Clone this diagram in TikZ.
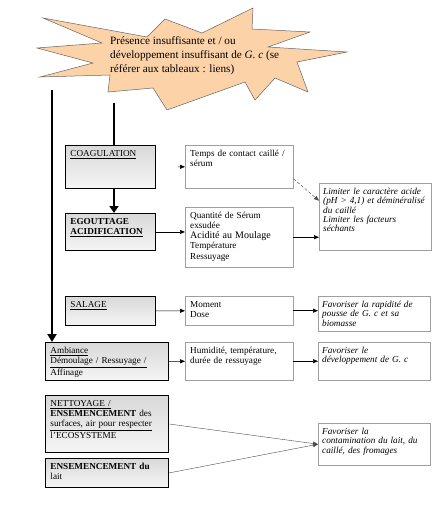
\documentclass[tikz,border=0pt]{standalone}
\usepackage{fontspec}
\setmainfont{Liberation Serif}
\usepackage{tikz}
\usetikzlibrary{arrows.meta,shadows}
\definecolor{burstpeach}{RGB}{252,210,168}

\begin{document}
\begin{tikzpicture}[x=1pt,y=-1pt,>={Triangle[length=5pt,width=4pt]}, every node/.style={font=\fontsize{9.2}{10.2}\selectfont}]
    \tikzset{stage/.style={draw,line width=0.9pt,top color=gray!30,bottom color=gray!8,anchor=north west,align=left,inner xsep=5pt,inner ysep=3pt,text height=8pt,text width=80pt}}
    \tikzset{factor/.style={draw=gray!75,fill=white,drop shadow={shadow xshift=1.2pt,shadow yshift=-1.2pt,fill=gray!70,opacity=1},anchor=north west,align=left,inner xsep=5pt,inner ysep=3pt,text height=8pt,text width=98pt}}
    \tikzset{effect/.style={factor,inner xsep=4pt,text width=104pt,font=\fontsize{9.2}{9.4}\selectfont\itshape}}
    \tikzset{flow/.style={line width=2pt}}
    \tikzset{link/.style={->,line width=0.6pt}}
    \tikzset{hint/.style={->,line width=0.4pt,gray!60!black}}

    \useasboundingbox (0,0) rectangle (440,511);

    % Starburst
    \draw[fill=burstpeach,draw=black!60,line width=0.5pt]
      (43,18) -- (147,37) -- (165,19) -- (202,33) -- (253,8) -- (252,29) -- (310,32) -- (268,47)
      -- (347,52) -- (297,62) -- (308,92) -- (275,78) -- (255,100) -- (245,82) -- (167,110)
      -- (153,88) -- (108,92) -- (110,75) -- (40,77) -- (93,63) -- (37,48) -- (102,43) -- cycle;
    \node[anchor=north west,align=left,inner sep=0pt,font=\fontsize{11.2}{14}\selectfont] (cause) at (110,36)
      {Présence insuffisante et / ou\\ développement insuffisant de \textit{G. c} (se\\ référer aux tableaux : liens)};
    \coordinate (leftstart) at (52,90);
    \coordinate (midstart) at (114,103);

    % Coagulation / egouttage / salage
    \node[stage,text depth=29pt] (coag) at (65,145) {\underline{COAGULATION}};
    \node[stage,text depth=23pt] (egout) at (65,213) {\textbf{EGOUTTAGE}\\ \textbf{\underline{ACIDIFICATION}}};
    \node[stage,text depth=15pt] (salage) at (65,296) {\underline{SALAGE}};

    % Ambiance, nettoyage, ensemencement
    \node[stage,text width=113pt,text depth=24pt] (amb) at (45,342) {\underline{Ambiance}\\ \underline{Démoulage / Ressuyage /}\\ Affinage};
    \node[stage,text width=113pt,text depth=43pt] (nett) at (45,395) {\underline{NETTOYAGE /}\\ \textbf{ENSEMENCEMENT} des\\ \underline{surfaces, air pour respecter}\\ l'ECOSYSTEME};
    \node[stage,text width=113pt,text depth=15pt] (ensem) at (45,458) {\textbf{ENSEMENCEMENT du}\\ lait};

    % Factors
    \node[factor,text depth=46pt] (quant) at (185,207) {Quantité de Sérum\\ exsudée\\ {\fontsize{10}{10.2}\selectfont Acidité au Moulage}\\ Température\\ Ressuyage};
    \node[factor,text depth=29pt] (temps) at (185,145) {Temps de contact caillé /\\ sérum};
    \node[factor,text depth=15pt] (moment) at (185,296) {Moment\\ Dose};
    \node[factor,text depth=24pt] (humid) at (185,342) {Humidité, température,\\ durée de ressuyage};

    % Effects
    \node[effect,text depth=53pt] (limiter) at (319,183) {Limiter le caractère acide\\ (pH > 4,1) et déminéralisé\\ du caillé\\ Limiter les facteurs\\ séchants};
    \node[effect,text depth=21pt] (fav1) at (318,296) {Favoriser la rapidité de\\ pousse de G. c et sa\\ biomasse};
    \node[effect,text depth=24pt] (fav2) at (318,342) {Favoriser le\\ développement de G. c};
    \node[effect,text depth=28pt] (fav3) at (318,423) {Favoriser la\\ contamination du lait, du\\ caillé, des fromages};

    % Connectors
    \draw[flow,-{Triangle[length=8pt,width=9pt]}] (leftstart) -- (leftstart |- amb.north);
    \draw[flow] (midstart) -- (midstart |- coag.north);
    \draw[flow,-{Triangle[length=7pt,width=9pt]}] (midstart |- coag.south) -- (midstart |- egout.north);
    \draw[link,shorten <=22pt] (coag) -- (temps);
    \draw[link] (egout.east) -- (egout.east -| quant.west);
    \draw[hint,densely dashed] ([yshift=-12pt]temps.east) -- ([yshift=16pt]limiter.west);
    \draw[link] (quant.east) -- (quant.east -| limiter.west);
    \draw[link] (salage) -- (moment);
    \draw[link] (moment.east) -- (moment.east -| fav1.west);
    \draw[link] (amb) -- (humid);
    \draw[link] (humid) -- (fav2);
    \draw[hint] (nett.east) -- (fav3.west);
    \draw[hint] (ensem.east) -- (fav3.west);
  \end{tikzpicture}
\end{document}
